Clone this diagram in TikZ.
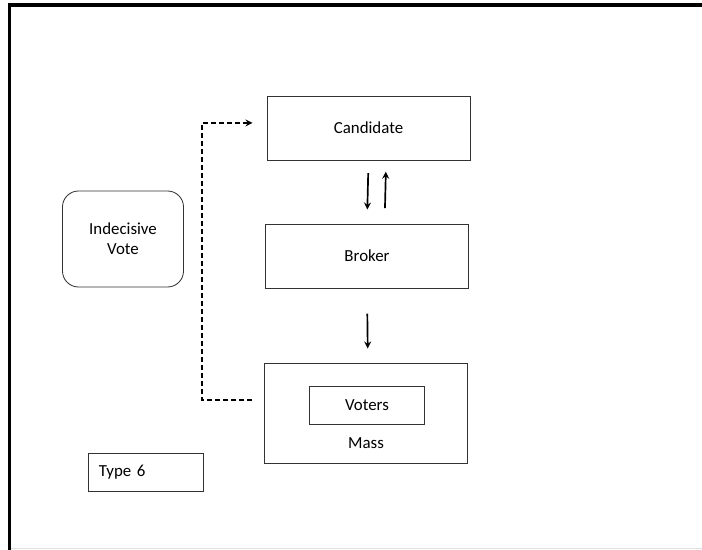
\documentclass[tikz,border=0pt]{standalone}
\usepackage{fontspec}
\setmainfont{Carlito}
\begin{document}
\begin{tikzpicture}[
    x=0.025cm, y=-0.025cm,
    box/.style={rectangle, draw=black!80, line width=0.6pt, minimum width=5.075cm, minimum height=1.6cm, align=center, font=\fontsize{12}{14}\selectfont},
    smallbox/.style={rectangle, draw=black!80, line width=0.6pt, minimum width=2.875cm, minimum height=0.95cm, align=center, font=\fontsize{12}{14}\selectfont},
    roundbox/.style={rectangle, rounded corners=0.4cm, draw=black!80, line width=0.6pt, minimum width=3.025cm, minimum height=2.4cm, align=center, font=\fontsize{12}{14}\selectfont},
    plain/.style={font=\fontsize{12}{14}\selectfont, inner sep=0pt},
    arrow/.style={->, >=stealth, line width=1.2pt},
    dasharrow/.style={->, >=stealth, dash pattern=on 3.5pt off 2.2pt, line width=1.2pt}
]
\useasboundingbox (0,0) rectangle (702,550);

% Frame
\draw[line width=2.2pt] (702,5) -- (9.5,5) -- (9.5,550);
\draw[black!12, line width=0.8pt] (11,548.5) -- (702,548.5);

% Main chain
\node[box] (cand) at (368.5,128) {Candidate};
\node[box] (broker) at (367,256) {Broker};
\node[box, minimum height=2.5cm] (mass) at (365.5,413) {};
\node[smallbox] (voters) at (367,405) {Voters};
\node[plain] (masstext) at (366,443) {Mass};

% Side boxes
\node[roundbox] (indec) at (123,239) {Indecisive\\Vote};
\node[rectangle, draw=black!80, line width=0.6pt, minimum height=0.95cm, inner xsep=0.275cm, text width=2.325cm, align=left, font=\fontsize{12}{14}\selectfont] (type) at (145.5,472) {Type 6};

% Arrows
\draw[arrow, shorten <=9pt, shorten >=10pt] (cand.south) -- (broker.north);
\draw[arrow, shorten <=11pt, shorten >=8pt] ([xshift=0.44cm]broker.north) -- ([xshift=0.44cm]cand.south);
\draw[arrow, shorten <=18pt, shorten >=10pt] (broker.south) -- ([xshift=0.06cm]mass.north);

% Dashed link
\draw[dasharrow, shorten <=8pt, shorten >=10pt] ([yshift=0.325cm]mass.west) -| (202,300) |- ([yshift=0.125cm]cand.west);

\end{tikzpicture}
\end{document}
